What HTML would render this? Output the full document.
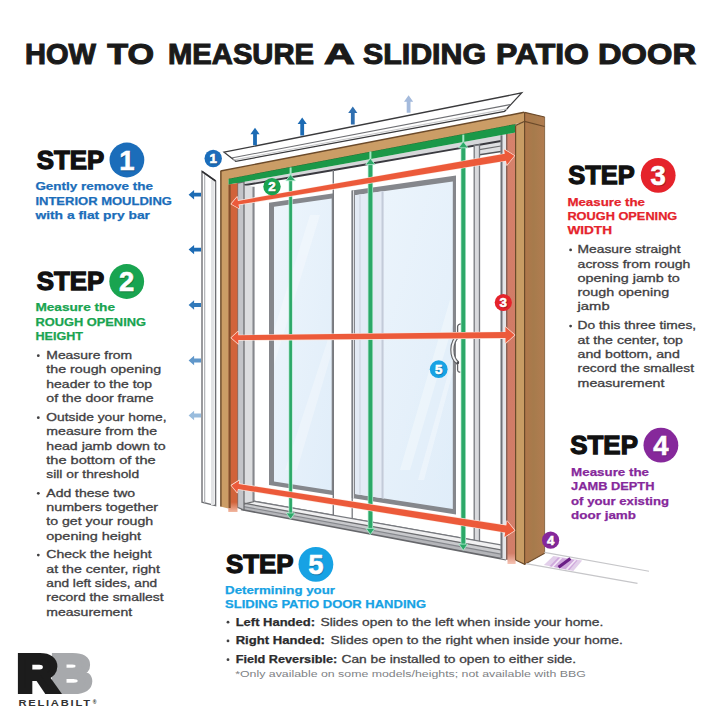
<!DOCTYPE html>
<html lang="en"><head><meta charset="utf-8"><title>How to Measure a Sliding Patio Door</title>
<style>
html,body{margin:0;padding:0;background:#fff;}
body{width:720px;height:720px;overflow:hidden;font-family:"Liberation Sans",sans-serif;}
svg{display:block;}
text{font-family:"Liberation Sans",sans-serif;}
</style></head><body>
<svg width="720" height="720" viewBox="0 0 720 720">
<defs>
<linearGradient id="glass" x1="0" y1="0" x2="1" y2="1"><stop offset="0" stop-color="#edf5fc"/><stop offset="1" stop-color="#e0edf9"/></linearGradient>
<linearGradient id="orL" x1="0" y1="0" x2="0" y2="1"><stop offset="0" stop-color="#d1633a"/><stop offset="0.97" stop-color="#d1633a"/><stop offset="1" stop-color="#f2b8a2"/></linearGradient>
<linearGradient id="orR" x1="0" y1="0" x2="0" y2="1"><stop offset="0" stop-color="#d6826c"/><stop offset="0.5" stop-color="#d07b66"/><stop offset="0.975" stop-color="#d27e69"/><stop offset="1" stop-color="#f6c4b4"/></linearGradient>
<linearGradient id="post" x1="0" y1="0" x2="1" y2="0"><stop offset="0" stop-color="#b0764a"/><stop offset="0.45" stop-color="#a67b4c"/><stop offset="1" stop-color="#b27c50"/></linearGradient>
<clipPath id="cg1"><polygon points="274,206.7 331.7,198.5 331.7,490.4 274,481.6"/></clipPath>
<clipPath id="cg2"><polygon points="384,191.1 452.8,181.4 452.8,508.9 384,498.4"/></clipPath>
</defs>
<polygon points="237.5,183 507,134.1 507,559.8 237.5,508.8" fill="#ffffff" stroke="none" stroke-width="0" />
<polygon points="237.5,183 244,181.8 300,171.8 360,160.9 440,146.3 479.5,139.1 501,135.2 507,134.1 501,141 479.5,144.8 440,151.6 360,165.5 300,175.8 244,185.3" fill="#d6d7da" stroke="none" stroke-width="0" />
<polygon points="479.5,144.8 501,141 501,151.5 479.5,154.8" fill="#dedfe2" stroke="none" stroke-width="0" />
<polyline points="479.5,149.6 501,146" fill="none" stroke="#6d6e71" stroke-width="1.1"/>
<polyline points="479.5,154.8 501,151.5" fill="none" stroke="#55565a" stroke-width="1.4"/>
<polyline points="244,185.3 300,175.8 360,165.5 440,151.6 479.5,144.8 501,141" fill="none" stroke="#3a3a40" stroke-width="1.9"/>
<polygon points="269,202.8 334,193.2 334,495.2 269,485" fill="#85878c" stroke="none" stroke-width="0" />
<polygon points="274,206.7 331.7,198.5 331.7,490.4 274,481.6" fill="url(#glass)" stroke="none" stroke-width="0" />
<polygon points="351.7,190.6 456,175.4 456,514.4 351.7,498" fill="#85878c" stroke="none" stroke-width="0" />
<polygon points="355,195.2 452.8,181.4 452.8,508.9 355,493.9" fill="url(#glass)" stroke="none" stroke-width="0" />
<polygon points="355,195.2 384,191.1 384,498.4 355,493.9" fill="#e4ebf5" stroke="none" stroke-width="0" />
<line x1="353.3" y1="190.4" x2="353.3" y2="498.2" stroke="#e8e8ea" stroke-width="1.2" />
<line x1="360" y1="194.5" x2="360" y2="494.7" stroke="#d3dae5" stroke-width="1.5" />
<line x1="382.5" y1="191.3" x2="382.5" y2="498.1" stroke="#c3cbd9" stroke-width="2" />
<g opacity="0.32" clip-path="url(#cg2)"><polygon points="400,470 450,300 460,300 410,470" fill="#ffffff" stroke="none" stroke-width="0" /><polygon points="418,480 452,360 456,360 424,480" fill="#ffffff" stroke="none" stroke-width="0" /></g>
<g opacity="0.3" clip-path="url(#cg1)"><polygon points="285,470 331,330 331,355 297,470" fill="#ffffff" stroke="none" stroke-width="0" /><polygon points="274,330 310,215 320,215 274,365" fill="#ffffff" stroke="none" stroke-width="0" /></g>
<polygon points="244,185.3 252.5,186.4 252.5,501 244,504.2" fill="#dcdddf" stroke="none" stroke-width="0" />
<line x1="253.5" y1="186.7" x2="253.5" y2="501.1" stroke="#85878c" stroke-width="2.2" />
<line x1="333.3" y1="170.1" x2="333.3" y2="515.3" stroke="#77797e" stroke-width="1.4" />
<line x1="253.5" y1="501.1" x2="333.3" y2="515.3" stroke="#77797e" stroke-width="1.4" />
<line x1="351.7" y1="518.6" x2="476" y2="540.6" stroke="#77797e" stroke-width="1.4" />
<line x1="352.2" y1="190.6" x2="352.2" y2="518.6" stroke="#77797e" stroke-width="1.3" />
<polygon points="474.2,145.7 479.5,144.8 479.5,542.4 474.2,540.3" fill="#d9dadd" stroke="#77797e" stroke-width="1.3" />
<polygon points="243.8,504.2 254.6,501.3 505,545.7 505,550.6 243.8,503.5" fill="#f1f1f2" stroke="none" stroke-width="0" />
<polygon points="243.8,503.2 505,550.6 505,559.4 243.8,510" fill="#b4b5b9" stroke="none" stroke-width="0" />
<polygon points="243.8,503.2 505,550.6 505,554.9 243.8,506.6" fill="#c8c9cc" stroke="none" stroke-width="0" />
<line x1="254.6" y1="501.3" x2="505" y2="545.7" stroke="#77797e" stroke-width="1.2" />
<line x1="243.8" y1="503.2" x2="505" y2="550.6" stroke="#6d6e71" stroke-width="1.3" />
<line x1="243.8" y1="506.6" x2="505" y2="554.9" stroke="#85878c" stroke-width="1.2" />
<line x1="241" y1="509.5" x2="506" y2="559.6" stroke="#66676b" stroke-width="1.6" />
<line x1="243.8" y1="504.2" x2="254.6" y2="501.3" stroke="#6d6e71" stroke-width="1.2" />
<polygon points="237.5,183 244,181.8 244,510 237.5,507.3" fill="#c3c4c8" stroke="#6d6e71" stroke-width="1.3" />
<polygon points="500.8,135.2 507,134.1 507,559.8 500.8,558.6" fill="#e4e5e8" stroke="none" stroke-width="0" />
<line x1="501.5" y1="135.2" x2="501.5" y2="558.6" stroke="#707278" stroke-width="2" />
<line x1="507" y1="134.1" x2="507" y2="559.8" stroke="#7a4a3c" stroke-width="1.7" />
<polygon points="228.3,184.6 237.5,183 237.5,512 228.3,512" fill="url(#orL)" stroke="none" stroke-width="0" />
<line x1="229.5" y1="184.4" x2="229.5" y2="508" stroke="#84502c" stroke-width="2.4" />
<polygon points="507.5,134.1 515.6,132.5 515.6,564 507.5,564" fill="url(#orR)" stroke="none" stroke-width="0" />
<polygon points="228.3,178.7 515.6,123.9 515.6,132.5 440,146.3 360,160.9 300,171.8 228.3,184.6" fill="#1b9848" stroke="none" stroke-width="0" />
<line x1="228.3" y1="178.7" x2="515.6" y2="123.9" stroke="#2b6a2e" stroke-width="1" />
<polygon points="220.5,171 524.2,112.3 524.2,122.3 515.6,123.9 228.3,178.7 220.5,180.5" fill="#cb9d66" stroke="none" stroke-width="0" />
<line x1="220.5" y1="171" x2="524.2" y2="112.3" stroke="#6b4a2a" stroke-width="1.4" />
<polygon points="220.5,171 228.3,178 228.3,508.5 220.5,506.5" fill="#cb9d66" stroke="none" stroke-width="0" />
<line x1="220.9" y1="171" x2="220.9" y2="506.5" stroke="#6b4a2a" stroke-width="1.4" />
<polygon points="515.6,125.4 524.6,122 524.6,564.4 515.6,560" fill="#c89c64" stroke="none" stroke-width="0" />
<polygon points="524.6,112.3 544.6,117 544.6,553.3 524.6,564.4" fill="url(#post)" stroke="none" stroke-width="0" />
<line x1="515.6" y1="125.4" x2="515.6" y2="560" stroke="#6b4a2a" stroke-width="1.2" />
<line x1="524.6" y1="112.3" x2="524.6" y2="564.4" stroke="#6b4a2a" stroke-width="1.2" />
<line x1="544.6" y1="117" x2="544.6" y2="553.3" stroke="#8a6a48" stroke-width="1" />
<line x1="524.6" y1="112.3" x2="544.6" y2="117" stroke="#6b4a2a" stroke-width="1.2" />
<polyline points="515.6,125.4 524.6,121.5 544.6,126.5" fill="none" stroke="#6b4a2a" stroke-width="1.2"/>
<polyline points="515.6,560 524.6,564.4 544.6,553.3" fill="none" stroke="#6b4a2a" stroke-width="1.2"/>
<polygon points="224,152.2 521.7,92.9 504.6,111.3 235.8,161.3" fill="#ffffff" stroke="#3a3a3c" stroke-width="1.3" />
<line x1="231.5" y1="158" x2="510" y2="104.6" stroke="#6f7074" stroke-width="1.1" />
<line x1="233" y1="160.2" x2="507" y2="108.8" stroke="#c9cacc" stroke-width="1.2" />
<polygon points="202,171.4 215.6,181 215.6,505.6 202,502.2" fill="#ffffff" stroke="#6f7074" stroke-width="1.4" />
<line x1="204.7" y1="174" x2="204.7" y2="503" stroke="#a9abae" stroke-width="1.1" />
<line x1="212.5" y1="180" x2="212.5" y2="505" stroke="#e3e4e6" stroke-width="3" />
<line x1="202" y1="171.4" x2="215.6" y2="181" stroke="#2f2f32" stroke-width="1.6" />
<line x1="544.4" y1="552.4" x2="649" y2="571.2" stroke="#c6c6c9" stroke-width="1.1" />
<line x1="526" y1="563.6" x2="637.5" y2="583.4" stroke="#c6c6c9" stroke-width="1.1" />
<polygon points="553.3,556.1 582.2,560.6 573.3,571.1 543.9,565" fill="#e2cfea" stroke="none" stroke-width="0" />
<polygon points="558,557.4 577.5,560.4 569.5,569.9 549.5,566.3" fill="#cfa9dc" stroke="none" stroke-width="0" />
<line x1="561.5" y1="557.6" x2="552.5" y2="567" stroke="#f3e8f7" stroke-width="1.6" />
<line x1="575.5" y1="560" x2="566.5" y2="569.6" stroke="#f3e8f7" stroke-width="1.6" />
<line x1="570.4" y1="558.5" x2="558.6" y2="567.2" stroke="#6a1f86" stroke-width="3.2" />
<path d="M457.6 333 L457.6 326.5 Q457.8 324 461.5 323.8" fill="none" stroke="#5f6064" stroke-width="1.3"/>
<path d="M457.6 363 L457.6 370 Q457.9 372.6 460.3 372" fill="none" stroke="#5f6064" stroke-width="1.3"/>
<path d="M458.3 334.5 C448.5 341 448.5 358 457.2 364.3 L458.6 362 C452.3 356.5 452.3 343 459 337 Z" fill="#f3f3f4" stroke="#5f6064" stroke-width="1.1" stroke-linejoin="round"/>
<circle cx="457.9" cy="362.8" r="1.3" fill="#4a4a4e"/>
<line x1="290.6" y1="167.5" x2="290.6" y2="177.5" stroke="#a6e6c4" stroke-width="2" /><line x1="290.6" y1="179.5" x2="290.6" y2="514.2" stroke="#b5ead0" stroke-width="4.1" /><line x1="290.6" y1="179.5" x2="290.6" y2="514.2" stroke="#2ca868" stroke-width="2.7" /><polygon points="290.6,174.5 295.3,180.7 285.9,180.7" fill="#2ca868" stroke="#b5ead0" stroke-width="0.8" /><polygon points="290.6,519.2 295,513 286.2,513" fill="#2ca868" stroke="#b5ead0" stroke-width="0.8" />
<line x1="370.4" y1="151.4" x2="370.4" y2="161.4" stroke="#a6e6c4" stroke-width="2" /><line x1="370.4" y1="163.4" x2="370.4" y2="529.6" stroke="#b5ead0" stroke-width="5.3" /><line x1="370.4" y1="163.4" x2="370.4" y2="529.6" stroke="#2ca868" stroke-width="3.9" /><polygon points="370.4,158.4 375.1,164.6 365.7,164.6" fill="#2ca868" stroke="#b5ead0" stroke-width="0.8" /><polygon points="370.4,534.6 374.8,528.4 366,528.4" fill="#2ca868" stroke="#b5ead0" stroke-width="0.8" />
<line x1="463.3" y1="134.6" x2="463.3" y2="144.6" stroke="#a6e6c4" stroke-width="2" /><line x1="463.3" y1="146.6" x2="463.3" y2="545.3" stroke="#b5ead0" stroke-width="5.3" /><line x1="463.3" y1="146.6" x2="463.3" y2="545.3" stroke="#2ca868" stroke-width="3.9" /><polygon points="463.3,141.6 468,147.8 458.6,147.8" fill="#2ca868" stroke="#b5ead0" stroke-width="0.8" /><polygon points="463.3,550.3 467.7,544.1 458.9,544.1" fill="#2ca868" stroke="#b5ead0" stroke-width="0.8" />
<polygon points="231.3,203.9 239.2,208.4 238.5,204.6 506,160.7 506.8,165 514.3,155.7 504.1,149.4 504.8,153.8 237.9,200.9 237.2,197" fill="#ec5a3a" stroke="#fde6de" stroke-width="1.3" stroke-linejoin="round" paint-order="stroke"/>
<polygon points="231.3,337.8 238.4,343.9 238.3,340.1 505.5,338.1 505.6,343.1 514.5,335 505.4,327.1 505.5,332.1 238.3,335.3 238.2,331.5" fill="#ec5a3a" stroke="#fde6de" stroke-width="1.3" stroke-linejoin="round" paint-order="stroke"/>
<polygon points="231.4,485.4 237.3,492.6 237.9,489 505.2,532.4 504.5,536.9 514.6,530.4 507,521.1 506.3,525.5 238.7,484 239.3,480.4" fill="#ec5a3a" stroke="#fde6de" stroke-width="1.3" stroke-linejoin="round" paint-order="stroke"/>
<g opacity="1"><polygon points="255,127.8 259.6,134.3 256.9,134.3 256.9,145.3 253.1,145.3 253.1,134.3 250.4,134.3" fill="#1c6bb4" stroke="none" stroke-width="0" /></g>
<g opacity="1"><polygon points="302.2,117.5 306.8,124 304.1,124 304.1,135.5 300.3,135.5 300.3,124 297.6,124" fill="#1c6bb4" stroke="none" stroke-width="0" /></g>
<g opacity="1"><polygon points="352.8,106.4 357.4,112.9 354.7,112.9 354.7,124.4 350.9,124.4 350.9,112.9 348.2,112.9" fill="#2f6fb0" stroke="none" stroke-width="0" /></g>
<g opacity="1"><polygon points="408.6,95.3 413.2,101.8 410.5,101.8 410.5,112.8 406.7,112.8 406.7,101.8 404,101.8" fill="#a4badc" stroke="none" stroke-width="0" /></g>
<g opacity="1"><polygon points="188.6,194.7 194.1,190 194.1,192.8 201,192.8 201,196.6 194.1,196.6 194.1,199.4" fill="#1c6bb4" stroke="none" stroke-width="0" /></g>
<g opacity="1"><polygon points="188.6,249.6 194.1,244.9 194.1,247.7 201,247.7 201,251.5 194.1,251.5 194.1,254.3" fill="#1c6bb4" stroke="none" stroke-width="0" /></g>
<g opacity="0.9"><polygon points="188.6,305 194.1,300.3 194.1,303.1 201,303.1 201,306.9 194.1,306.9 194.1,309.7" fill="#1c6bb4" stroke="none" stroke-width="0" /></g>
<g opacity="0.7"><polygon points="188.6,360.5 194.1,355.8 194.1,358.6 201,358.6 201,362.4 194.1,362.4 194.1,365.2" fill="#1c6bb4" stroke="none" stroke-width="0" /></g>
<g opacity="0.45"><polygon points="188.6,415.5 194.1,410.8 194.1,413.6 201,413.6 201,417.4 194.1,417.4 194.1,420.2" fill="#1c6bb4" stroke="none" stroke-width="0" /></g>
<circle cx="213.2" cy="158.5" r="8.7" fill="#1b6dba"/><text x="213.9" y="164.1" font-size="13.3" font-weight="700" fill="#000" opacity="0.25" text-anchor="middle" stroke="#000" stroke-width="0.6">1</text><text x="213.2" y="163.2" font-size="13.3" font-weight="700" fill="#fff" text-anchor="middle" stroke="#fff" stroke-width="0.6">1</text>
<circle cx="272" cy="186.6" r="8.7" fill="#19a450"/><text x="272.7" y="192.2" font-size="13.3" font-weight="700" fill="#000" opacity="0.25" text-anchor="middle" stroke="#000" stroke-width="0.6">2</text><text x="272" y="191.3" font-size="13.3" font-weight="700" fill="#fff" text-anchor="middle" stroke="#fff" stroke-width="0.6">2</text>
<circle cx="503.3" cy="302.5" r="8.6" fill="#e5232b"/><text x="504" y="308.1" font-size="13.3" font-weight="700" fill="#000" opacity="0.25" text-anchor="middle" stroke="#000" stroke-width="0.6">3</text><text x="503.3" y="307.2" font-size="13.3" font-weight="700" fill="#fff" text-anchor="middle" stroke="#fff" stroke-width="0.6">3</text>
<circle cx="550.6" cy="540.2" r="8.6" fill="#86289b"/><text x="551.3" y="545.8" font-size="13.3" font-weight="700" fill="#000" opacity="0.25" text-anchor="middle" stroke="#000" stroke-width="0.6">4</text><text x="550.6" y="545" font-size="13.3" font-weight="700" fill="#fff" text-anchor="middle" stroke="#fff" stroke-width="0.6">4</text>
<circle cx="438.7" cy="369.2" r="8.9" fill="#17a2e4"/><text x="439.4" y="374.8" font-size="13.3" font-weight="700" fill="#000" opacity="0.25" text-anchor="middle" stroke="#000" stroke-width="0.6">5</text><text x="438.7" y="373.9" font-size="13.3" font-weight="700" fill="#fff" text-anchor="middle" stroke="#fff" stroke-width="0.6">5</text>
<text y="64" font-size="29.8" font-weight="700" fill="#1a1a1a" stroke="#1a1a1a" stroke-width="1.1"><tspan x="25" textLength="71" lengthAdjust="spacingAndGlyphs">HOW</tspan> <tspan x="107.2" textLength="46.8" lengthAdjust="spacingAndGlyphs">TO</tspan> <tspan x="168" textLength="146" lengthAdjust="spacingAndGlyphs">MEASURE</tspan> <tspan x="324" textLength="29" lengthAdjust="spacingAndGlyphs">A</tspan> <tspan x="363" textLength="123" lengthAdjust="spacingAndGlyphs">SLIDING</tspan> <tspan x="496" textLength="93" lengthAdjust="spacingAndGlyphs">PATIO</tspan> <tspan x="598" textLength="98" lengthAdjust="spacingAndGlyphs">DOOR</tspan></text>
<text x="36.8" y="169" font-size="26.4" font-weight="700" fill="#111" stroke="#111" stroke-width="1.3" textLength="67.5" lengthAdjust="spacingAndGlyphs">STEP</text><circle cx="126.9" cy="160" r="17.4" fill="#1b6dba"/><text x="127.6" y="170.7" font-size="27.5" font-weight="700" fill="#000" opacity="0.25" text-anchor="middle" stroke="#000" stroke-width="0.6">1</text><text x="126.9" y="169.8" font-size="27.5" font-weight="700" fill="#fff" text-anchor="middle" stroke="#fff" stroke-width="0.6">1</text>
<text x="36.8" y="290" font-size="26.4" font-weight="700" fill="#111" stroke="#111" stroke-width="1.3" textLength="67.5" lengthAdjust="spacingAndGlyphs">STEP</text><circle cx="126.7" cy="281.5" r="17.4" fill="#19a450"/><text x="127.4" y="292.2" font-size="27.5" font-weight="700" fill="#000" opacity="0.25" text-anchor="middle" stroke="#000" stroke-width="0.6">2</text><text x="126.7" y="291.4" font-size="27.5" font-weight="700" fill="#fff" text-anchor="middle" stroke="#fff" stroke-width="0.6">2</text>
<text x="568.3" y="184.3" font-size="26.4" font-weight="700" fill="#111" stroke="#111" stroke-width="1.3" textLength="66.5" lengthAdjust="spacingAndGlyphs">STEP</text><circle cx="658.2" cy="175.3" r="17.4" fill="#e5232b"/><text x="658.9" y="186" font-size="27.5" font-weight="700" fill="#000" opacity="0.25" text-anchor="middle" stroke="#000" stroke-width="0.6">3</text><text x="658.2" y="185.2" font-size="27.5" font-weight="700" fill="#fff" text-anchor="middle" stroke="#fff" stroke-width="0.6">3</text>
<text x="570.3" y="454.3" font-size="26.4" font-weight="700" fill="#111" stroke="#111" stroke-width="1.3" textLength="67.6" lengthAdjust="spacingAndGlyphs">STEP</text><circle cx="660.9" cy="445.2" r="17.4" fill="#86289b"/><text x="661.6" y="455.9" font-size="27.5" font-weight="700" fill="#000" opacity="0.25" text-anchor="middle" stroke="#000" stroke-width="0.6">4</text><text x="660.9" y="455.1" font-size="27.5" font-weight="700" fill="#fff" text-anchor="middle" stroke="#fff" stroke-width="0.6">4</text>
<text x="226" y="573.3" font-size="26.4" font-weight="700" fill="#111" stroke="#111" stroke-width="1.3" textLength="67.6" lengthAdjust="spacingAndGlyphs">STEP</text><circle cx="315.9" cy="564.3" r="17.4" fill="#17a2e4"/><text x="316.6" y="574.9" font-size="27.5" font-weight="700" fill="#000" opacity="0.25" text-anchor="middle" stroke="#000" stroke-width="0.6">5</text><text x="315.9" y="574.1" font-size="27.5" font-weight="700" fill="#fff" text-anchor="middle" stroke="#fff" stroke-width="0.6">5</text>
<text x="35.4" y="190" font-size="11.5" font-weight="700" fill="#1b6dba" stroke="#1b6dba" stroke-width="0.25" textLength="117.6" lengthAdjust="spacingAndGlyphs">Gently remove the</text>
<text x="35.4" y="204.5" font-size="11.5" font-weight="700" fill="#1b6dba" stroke="#1b6dba" stroke-width="0.25" textLength="136.6" lengthAdjust="spacingAndGlyphs">INTERIOR MOULDING</text>
<text x="35.4" y="219" font-size="11.5" font-weight="700" fill="#1b6dba" stroke="#1b6dba" stroke-width="0.25" textLength="114.6" lengthAdjust="spacingAndGlyphs">with a flat pry bar</text>
<text x="35.4" y="311" font-size="11.5" font-weight="700" fill="#19a450" stroke="#19a450" stroke-width="0.25" textLength="79.6" lengthAdjust="spacingAndGlyphs">Measure the</text>
<text x="35.4" y="325.5" font-size="11.5" font-weight="700" fill="#19a450" stroke="#19a450" stroke-width="0.25" textLength="110.6" lengthAdjust="spacingAndGlyphs">ROUGH OPENING</text>
<text x="35.4" y="339.7" font-size="11.5" font-weight="700" fill="#19a450" stroke="#19a450" stroke-width="0.25" textLength="47.6" lengthAdjust="spacingAndGlyphs">HEIGHT</text>
<text x="567.4" y="205.5" font-size="11.5" font-weight="700" fill="#e5232b" stroke="#e5232b" stroke-width="0.25" textLength="77.6" lengthAdjust="spacingAndGlyphs">Measure the</text>
<text x="567.4" y="219.7" font-size="11.5" font-weight="700" fill="#e5232b" stroke="#e5232b" stroke-width="0.25" textLength="109.9" lengthAdjust="spacingAndGlyphs">ROUGH OPENING</text>
<text x="567.4" y="233.8" font-size="11.5" font-weight="700" fill="#e5232b" stroke="#e5232b" stroke-width="0.25" textLength="44.6" lengthAdjust="spacingAndGlyphs">WIDTH</text>
<text x="571.1" y="476" font-size="11.5" font-weight="700" fill="#86289b" stroke="#86289b" stroke-width="0.25" textLength="77.9" lengthAdjust="spacingAndGlyphs">Measure the</text>
<text x="571.1" y="490.3" font-size="11.5" font-weight="700" fill="#86289b" stroke="#86289b" stroke-width="0.25" textLength="83.3" lengthAdjust="spacingAndGlyphs">JAMB DEPTH</text>
<text x="571.1" y="504.5" font-size="11.5" font-weight="700" fill="#86289b" stroke="#86289b" stroke-width="0.25" textLength="97.9" lengthAdjust="spacingAndGlyphs">of your existing</text>
<text x="571.1" y="518.7" font-size="11.5" font-weight="700" fill="#86289b" stroke="#86289b" stroke-width="0.25" textLength="64.9" lengthAdjust="spacingAndGlyphs">door jamb</text>
<text x="225.1" y="594" font-size="11.5" font-weight="700" fill="#17a2e4" stroke="#17a2e4" stroke-width="0.25" textLength="109.9" lengthAdjust="spacingAndGlyphs">Determining your</text>
<text x="225.1" y="607.7" font-size="11.5" font-weight="700" fill="#17a2e4" stroke="#17a2e4" stroke-width="0.25" textLength="200.9" lengthAdjust="spacingAndGlyphs">SLIDING PATIO DOOR HANDING</text>
<text x="46.3" y="359" font-size="11" font-weight="400" fill="#414042" stroke="#414042" stroke-width="0.3" textLength="85.8" lengthAdjust="spacingAndGlyphs">Measure from</text><circle cx="38.3" cy="355.7" r="1.4" fill="#414042"/>
<text x="46.3" y="373.3" font-size="11" font-weight="400" fill="#414042" stroke="#414042" stroke-width="0.3" textLength="114.8" lengthAdjust="spacingAndGlyphs">the rough opening</text>
<text x="46.3" y="387.6" font-size="11" font-weight="400" fill="#414042" stroke="#414042" stroke-width="0.3" textLength="105.8" lengthAdjust="spacingAndGlyphs">header to the top</text>
<text x="46.3" y="401.9" font-size="11" font-weight="400" fill="#414042" stroke="#414042" stroke-width="0.3" textLength="107.3" lengthAdjust="spacingAndGlyphs">of the door frame</text>
<text x="46.3" y="421" font-size="11" font-weight="400" fill="#414042" stroke="#414042" stroke-width="0.3" textLength="120.3" lengthAdjust="spacingAndGlyphs">Outside your home,</text><circle cx="38.3" cy="417.7" r="1.4" fill="#414042"/>
<text x="46.3" y="435.3" font-size="11" font-weight="400" fill="#414042" stroke="#414042" stroke-width="0.3" textLength="110.8" lengthAdjust="spacingAndGlyphs">measure from the</text>
<text x="46.3" y="449.6" font-size="11" font-weight="400" fill="#414042" stroke="#414042" stroke-width="0.3" textLength="119.3" lengthAdjust="spacingAndGlyphs">head jamb down to</text>
<text x="46.3" y="463.9" font-size="11" font-weight="400" fill="#414042" stroke="#414042" stroke-width="0.3" textLength="109.3" lengthAdjust="spacingAndGlyphs">the bottom of the</text>
<text x="46.3" y="478.2" font-size="11" font-weight="400" fill="#414042" stroke="#414042" stroke-width="0.3" textLength="92.8" lengthAdjust="spacingAndGlyphs">sill or threshold</text>
<text x="46.3" y="496.6" font-size="11" font-weight="400" fill="#414042" stroke="#414042" stroke-width="0.3" textLength="88.8" lengthAdjust="spacingAndGlyphs">Add these two</text><circle cx="38.3" cy="493.3" r="1.4" fill="#414042"/>
<text x="46.3" y="510.9" font-size="11" font-weight="400" fill="#414042" stroke="#414042" stroke-width="0.3" textLength="111.8" lengthAdjust="spacingAndGlyphs">numbers together</text>
<text x="46.3" y="525.2" font-size="11" font-weight="400" fill="#414042" stroke="#414042" stroke-width="0.3" textLength="106.8" lengthAdjust="spacingAndGlyphs">to get your rough</text>
<text x="46.3" y="539.5" font-size="11" font-weight="400" fill="#414042" stroke="#414042" stroke-width="0.3" textLength="94.8" lengthAdjust="spacingAndGlyphs">opening height</text>
<text x="46.3" y="558.4" font-size="11" font-weight="400" fill="#414042" stroke="#414042" stroke-width="0.3" textLength="105.3" lengthAdjust="spacingAndGlyphs">Check the height</text><circle cx="38.3" cy="555.1" r="1.4" fill="#414042"/>
<text x="46.3" y="572.7" font-size="11" font-weight="400" fill="#414042" stroke="#414042" stroke-width="0.3" textLength="113.6" lengthAdjust="spacingAndGlyphs">at the center, right</text>
<text x="46.3" y="587" font-size="11" font-weight="400" fill="#414042" stroke="#414042" stroke-width="0.3" textLength="110.8" lengthAdjust="spacingAndGlyphs">and left sides, and</text>
<text x="46.3" y="601.3" font-size="11" font-weight="400" fill="#414042" stroke="#414042" stroke-width="0.3" textLength="117.3" lengthAdjust="spacingAndGlyphs">record the smallest</text>
<text x="46.3" y="615.6" font-size="11" font-weight="400" fill="#414042" stroke="#414042" stroke-width="0.3" textLength="85.8" lengthAdjust="spacingAndGlyphs">measurement</text>
<text x="577.6" y="253.2" font-size="11" font-weight="400" fill="#414042" stroke="#414042" stroke-width="0.3" textLength="102.9" lengthAdjust="spacingAndGlyphs">Measure straight</text><circle cx="570.6" cy="249.9" r="1.4" fill="#414042"/>
<text x="577.6" y="267.5" font-size="11" font-weight="400" fill="#414042" stroke="#414042" stroke-width="0.3" textLength="112.8" lengthAdjust="spacingAndGlyphs">across from rough</text>
<text x="577.6" y="281.8" font-size="11" font-weight="400" fill="#414042" stroke="#414042" stroke-width="0.3" textLength="102.2" lengthAdjust="spacingAndGlyphs">opening jamb to</text>
<text x="577.6" y="296.1" font-size="11" font-weight="400" fill="#414042" stroke="#414042" stroke-width="0.3" textLength="91.5" lengthAdjust="spacingAndGlyphs">rough opening</text>
<text x="577.6" y="310.4" font-size="11" font-weight="400" fill="#414042" stroke="#414042" stroke-width="0.3" textLength="32" lengthAdjust="spacingAndGlyphs">jamb</text>
<text x="577.6" y="329.4" font-size="11" font-weight="400" fill="#414042" stroke="#414042" stroke-width="0.3" textLength="118.5" lengthAdjust="spacingAndGlyphs">Do this three times,</text><circle cx="570.6" cy="326.1" r="1.4" fill="#414042"/>
<text x="577.6" y="343.7" font-size="11" font-weight="400" fill="#414042" stroke="#414042" stroke-width="0.3" textLength="105.3" lengthAdjust="spacingAndGlyphs">at the center, top</text>
<text x="577.6" y="358" font-size="11" font-weight="400" fill="#414042" stroke="#414042" stroke-width="0.3" textLength="102.2" lengthAdjust="spacingAndGlyphs">and bottom, and</text>
<text x="577.6" y="372.3" font-size="11" font-weight="400" fill="#414042" stroke="#414042" stroke-width="0.3" textLength="116.4" lengthAdjust="spacingAndGlyphs">record the smallest</text>
<text x="577.6" y="386.6" font-size="11" font-weight="400" fill="#414042" stroke="#414042" stroke-width="0.3" textLength="86.8" lengthAdjust="spacingAndGlyphs">measurement</text>
<circle cx="228" cy="622.2" r="1.4" fill="#414042"/><text x="235.7" y="625.5" font-size="11" font-weight="700" fill="#2b2b2d" stroke="#2b2b2d" stroke-width="0.25" textLength="79.3" lengthAdjust="spacingAndGlyphs">Left Handed:</text><text x="320.5" y="625.5" font-size="11" font-weight="400" fill="#414042" stroke="#414042" stroke-width="0.3" textLength="282.9" lengthAdjust="spacingAndGlyphs">Slides open to the left when inside your home.</text>
<circle cx="228" cy="640.9" r="1.4" fill="#414042"/><text x="235.7" y="644.2" font-size="11" font-weight="700" fill="#2b2b2d" stroke="#2b2b2d" stroke-width="0.25" textLength="89.3" lengthAdjust="spacingAndGlyphs">Right Handed:</text><text x="330.5" y="644.2" font-size="11" font-weight="400" fill="#414042" stroke="#414042" stroke-width="0.3" textLength="292.3" lengthAdjust="spacingAndGlyphs">Slides open to the right when inside your home.</text>
<circle cx="228" cy="659.7" r="1.4" fill="#414042"/><text x="235.7" y="663" font-size="11" font-weight="700" fill="#2b2b2d" stroke="#2b2b2d" stroke-width="0.25" textLength="101.6" lengthAdjust="spacingAndGlyphs">Field Reversible:</text><text x="341.5" y="663" font-size="11" font-weight="400" fill="#414042" stroke="#414042" stroke-width="0.3" textLength="234.6" lengthAdjust="spacingAndGlyphs">Can be installed to open to either side.</text>
<text x="235.2" y="676.7" font-size="9.6" font-weight="400" fill="#808285"  textLength="350.6" lengthAdjust="spacingAndGlyphs">*Only available on some models/heights; not available with BBG</text>
<text x="51.5" y="691" font-size="50.3" font-weight="700" fill="#a7a9ac" stroke="#a7a9ac" stroke-width="6" stroke-linejoin="miter" textLength="40" lengthAdjust="spacingAndGlyphs">B</text>
<text x="17.4" y="691" font-size="50.3" font-weight="700" fill="#1c1c1c" stroke="#1c1c1c" stroke-width="6" stroke-linejoin="miter" textLength="39.6" lengthAdjust="spacingAndGlyphs">R</text>
<text transform="translate(18.4,705.6) scale(1.3,1)" font-size="8.6" font-weight="700" fill="#333" letter-spacing="1.35">RELIABILT</text>
<text x="92.8" y="703.6" font-size="5" font-weight="700" fill="#2a2a2a" >®</text>
</svg>
</body></html>
